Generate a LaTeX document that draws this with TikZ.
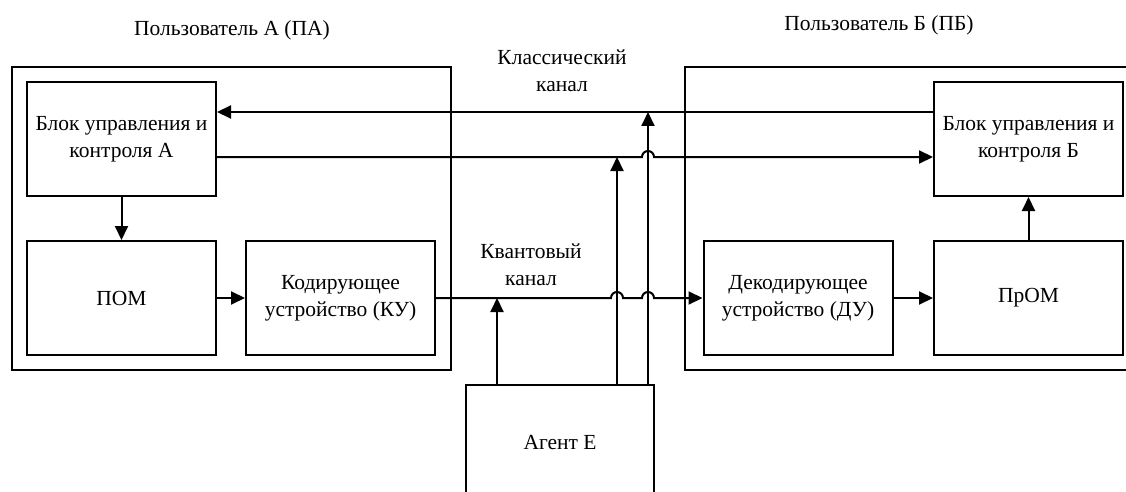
\documentclass[tikz,border=0pt]{standalone}
\usepackage{fontspec}
\setmainfont{Liberation Serif}
\usetikzlibrary{arrows.meta}

\tikzset{
  blk/.style={draw, line width=2pt, minimum width=189pt, minimum height=114pt,
              inner sep=0pt, align=center},
  usr/.style={draw, line width=2pt, inner sep=0pt},
  lbl/.style={align=center, inner sep=0pt},
  arr/.style={line width=2pt, -{Triangle[length=14pt,width=13pt]}},
}

\begin{document}
\begin{tikzpicture}[x=1pt, y=1pt, font=\fontsize{21.5}{27}\selectfont]
\useasboundingbox (0,0) rectangle (1126,-492);

% user enclosures
\node[usr, minimum width=439pt, minimum height=303pt] (userA) at (231.5,-218.5) {};
\node[usr, minimum width=460pt, minimum height=303pt] (userB) at (915,-218.5) {};

% blocks of user A
\node[blk] (ctrlA) at (121.5,-139) {Блок управления и\\контроля А};
\node[blk] (pomA)  at (121.5,-298) {ПОМ};
\node[blk] (enc)   at (340.5,-298) {Кодирующее\\устройство (КУ)};

% blocks of user B
\node[blk] (dec)   at (798,-298)    {Декодирующее\\устройство (ДУ)};
\node[blk] (prom)  at (1028.5,-298) {ПрОМ};
\node[blk] (ctrlB) at (1028.5,-139) {Блок управления и\\контроля Б};

% eavesdropper
\node[blk, minimum width=188pt, minimum height=115pt] (eve) at (560,-442.5) {Агент Е};

% labels
\node[lbl] (titleA) at (232,-30) {Пользователь А (ПА)};
\node[lbl] (titleB) at (879,-25) {Пользователь Б (ПБ)};
\node[lbl] (cls) at (562,-71) {Классический\\канал};
\node[lbl] (qnt) at (531,-265) {Квантовый\\канал};

% tap points of the eavesdropper
\coordinate (tq) at (497,-298);
\coordinate (tc1) at (617,-157);
\coordinate (tc2) at (648,-112);

% classical channel
\draw[arr] ([yshift=27pt]ctrlB.west) -- ([yshift=27pt]ctrlA.east);
\draw[arr] ([yshift=-18pt]ctrlA.east) -- (642,-157)
  arc[start angle=180, end angle=0, radius=6] -- ([yshift=-18pt]ctrlB.west);

% internal links
\draw[arr] (ctrlA.south) -- (pomA.north);
\draw[arr] (pomA.east) -- (enc.west);
\draw[arr] (dec.east) -- (prom.west);
\draw[arr] (prom.north) -- (ctrlB.south);

% quantum channel
\draw[arr] (enc.east) -- (611,-298)
  arc[start angle=180, end angle=0, radius=6] -- (642,-298)
  arc[start angle=180, end angle=0, radius=6] -- (dec.west);

% eavesdropper taps
\draw[arr] (eve.north -| tq) -- (tq);
\draw[arr] (eve.north -| tc1) -- (tc1);
\draw[arr] (eve.north -| tc2) -- (tc2);
\end{tikzpicture}
\end{document}
